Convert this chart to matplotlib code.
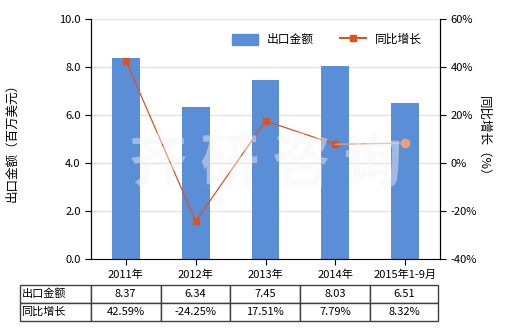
import numpy as np
import matplotlib.pyplot as plt
from matplotlib.patches import Patch
from matplotlib.lines import Line2D

plt.rcParams['font.family'] = ['Noto Sans CJK SC', 'DejaVu Sans']
plt.rcParams['font.size'] = 8

### Data
years = ["2011年", "2012年", "2013年", "2014年", "2015年1-9月"]
export_value = [8.37, 6.34, 7.45, 8.03, 6.51]
yoy_growth = [42.59, -24.25, 17.51, 7.79, 8.32]
###

bar_color = "#5A8ED6"
line_color = "#DA5420"

fig = plt.figure(figsize=(5.2, 3.3), dpi=100)
ax = fig.add_axes([91/520, 71/330, 349/520, 240/330])
ax2 = ax.twinx()

x = np.arange(len(years))
ax.bar(x, export_value, width=0.4, color=bar_color, zorder=2)
ax.set_xlim(-0.5, len(years) - 0.5)
ax.set_ylim(0, 10)
ax.set_yticks(np.arange(0, 10.1, 2))
ax.set_yticklabels([f"{v:.1f}" for v in np.arange(0, 10.1, 2)])
ax.set_xticks(x)
ax.set_xticklabels(years)
ax.grid(axis="y", color="#E3E3E3", lw=1, zorder=0)
ax.set_axisbelow(True)
ax.set_ylabel("出口金额（百万美元）", fontsize=9)
ax.yaxis.set_label_coords((18-91)/349, 0.5)

ax2.plot(x[:4], yoy_growth[:4], color=line_color, lw=0.9, marker="s", markersize=5, zorder=3)
ax2.plot(x[3:], yoy_growth[3:], color="#E8A078", lw=0.9, zorder=3)
ax2.plot(x[4], yoy_growth[4], marker="o", color="#E9A080", markersize=6, ls="", zorder=3)
ax2.set_ylim(-40, 60)
ax2.set_yticks(np.arange(-40, 61, 20))
ax2.set_yticklabels([f"{v}%" for v in range(-40, 61, 20)])
ax2.set_ylabel("同比增长（%）", rotation=270, fontsize=9)
ax2.yaxis.set_label_coords((490-91)/349, 0.5)

for a in (ax, ax2):
    a.spines["top"].set_visible(False)
    for s in ("left", "right", "bottom"):
        a.spines[s].set_color("black")
    a.tick_params(length=4, color="black", labelsize=8)
ax2.spines["bottom"].set_visible(False)

# watermark
fig.text(0.51, 0.50, "齐 研 咨 询", fontsize=42, color="#F4F4F4", alpha=0.45,
         ha="center", va="center", fontweight="heavy", zorder=10)

handles = [Patch(color=bar_color),
           Line2D([], [], color=line_color, marker="s", markersize=4, lw=1.5)]
ax2.legend(handles, ["出口金额", "同比增长"], loc="upper right", ncol=2, frameon=False,
           bbox_to_anchor=(0.98, 0.985), handlelength=2.2, handleheight=1.1,
           columnspacing=2.2, fontsize=8.5)

# data table
cell_text = [["出口金额"] + [f"{v:.2f}" for v in export_value],
             ["同比增长"] + [f"{v:.2f}%" for v in yoy_growth]]
tbl = ax.table(cellText=cell_text, cellLoc="center",
               colWidths=[71/418] + [70/418] * 4 + [68/418],
               bbox=[(20-91)/349, -(321-259)/240, 418/349, 36/240])
tbl.auto_set_font_size(False)
tbl.set_fontsize(8)
for (r, c), cell in tbl.get_celld().items():
    cell.set_edgecolor("#404040")
    cell.set_linewidth(1)
    if c == 0:
        cell.set_text_props(ha="left")
        cell.PAD = 0.02

fig.savefig("out.png", dpi=100)
